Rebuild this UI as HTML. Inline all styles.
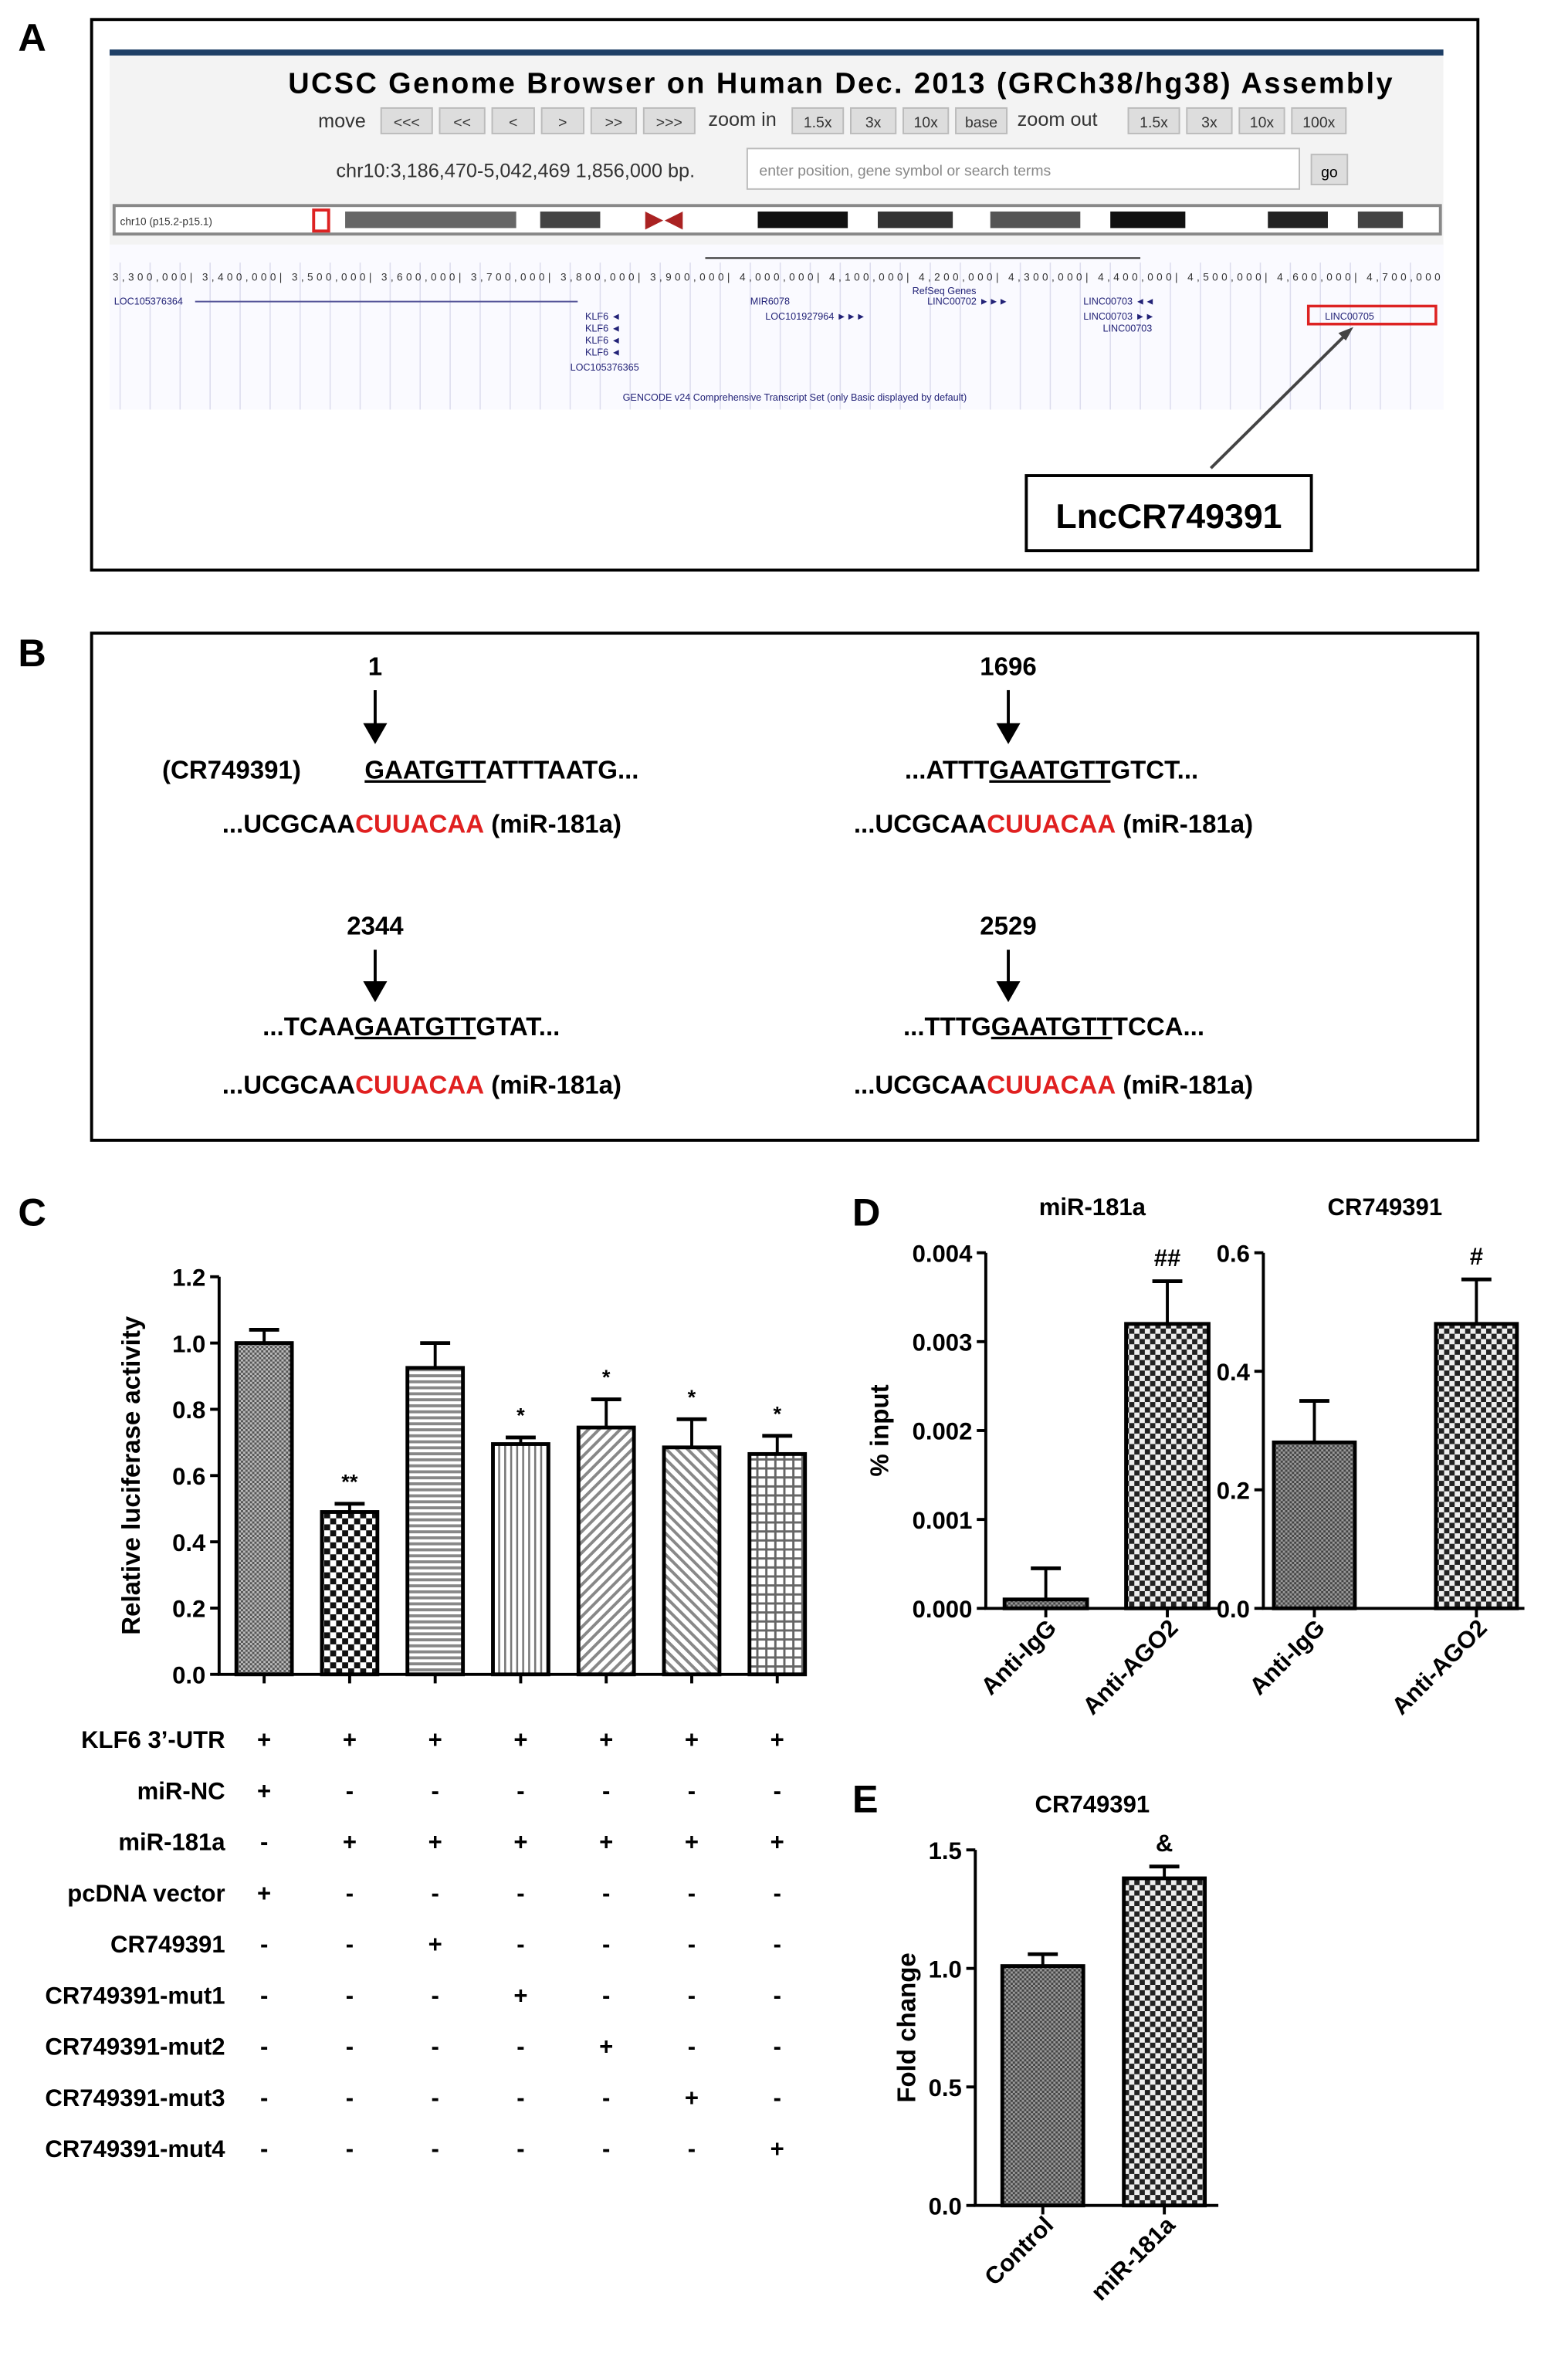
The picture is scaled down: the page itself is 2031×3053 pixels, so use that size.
<!DOCTYPE html>
<html><head><meta charset="utf-8"><style>
html,body{margin:0;padding:0;background:#fff}
svg{display:block}
text{font-family:"Liberation Sans",Arial,sans-serif}
</style></head><body>
<svg id="fig" width="2031" height="3053" viewBox="0 0 1045 1571" xmlns="http://www.w3.org/2000/svg">
<defs>
<pattern id="p-fine" width="3" height="3" patternUnits="userSpaceOnUse"><rect width="3" height="3" fill="#bbb"/><rect width="1.5" height="1.5" fill="#555"/><rect x="1.5" y="1.5" width="1.5" height="1.5" fill="#555"/></pattern>
<pattern id="p-check" width="8" height="8" patternUnits="userSpaceOnUse"><rect width="8" height="8" fill="#fff"/><rect width="4" height="4" fill="#111"/><rect x="4" y="4" width="4" height="4" fill="#111"/></pattern>
<pattern id="p-hor" width="6" height="4" patternUnits="userSpaceOnUse"><rect width="6" height="4" fill="#fff"/><rect width="6" height="2" fill="#888"/></pattern>
<pattern id="p-ver" width="4" height="6" patternUnits="userSpaceOnUse"><rect width="4" height="6" fill="#fff"/><rect width="1.3" height="6" fill="#777"/></pattern>
<pattern id="p-diag1" width="5" height="5" patternUnits="userSpaceOnUse" patternTransform="rotate(45)"><rect width="5" height="5" fill="#fff"/><rect width="2" height="5" fill="#888"/></pattern>
<pattern id="p-diag2" width="5" height="5" patternUnits="userSpaceOnUse" patternTransform="rotate(-45)"><rect width="5" height="5" fill="#fff"/><rect width="2" height="5" fill="#888"/></pattern>
<pattern id="p-grid" width="6" height="6" patternUnits="userSpaceOnUse"><rect width="6" height="6" fill="#fff"/><rect width="6" height="1.5" fill="#666"/><rect width="1.5" height="6" fill="#666"/></pattern>
<pattern id="p-checkD" width="7" height="7" patternUnits="userSpaceOnUse"><rect width="7" height="7" fill="#eee"/><rect width="3.5" height="3.5" fill="#222"/><rect x="3.5" y="3.5" width="3.5" height="3.5" fill="#222"/></pattern>
<pattern id="p-fineD" width="3" height="3" patternUnits="userSpaceOnUse"><rect width="3" height="3" fill="#999"/><rect width="1.5" height="1.5" fill="#444"/><rect x="1.5" y="1.5" width="1.5" height="1.5" fill="#444"/></pattern>
</defs>

<!-- Panel A -->
<text x="12" y="34" font-size="26" font-weight="bold">A</text>
<rect x="61" y="13" width="924" height="367" fill="none" stroke="#000" stroke-width="2"/>
<g>
<rect x="73" y="33" width="889" height="240" fill="#f3f3f3"/>
<rect x="73" y="33" width="889" height="4" fill="#1e3f66"/>
<text x="560" y="62" font-size="19.5" font-weight="bold" text-anchor="middle" textLength="736">UCSC Genome Browser on Human Dec. 2013 (GRCh38/hg38) Assembly</text>
<text x="212" y="85" font-size="13" fill="#333">move</text>
<g font-size="10" fill="#333" text-anchor="middle">
<rect x="254" y="72" width="34" height="17" fill="#ddd" stroke="#bbb"/><text x="271" y="85">&lt;&lt;&lt;</text>
<rect x="293" y="72" width="30" height="17" fill="#ddd" stroke="#bbb"/><text x="308" y="85">&lt;&lt;</text>
<rect x="328" y="72" width="28" height="17" fill="#ddd" stroke="#bbb"/><text x="342" y="85">&lt;</text>
<rect x="361" y="72" width="28" height="17" fill="#ddd" stroke="#bbb"/><text x="375" y="85">&gt;</text>
<rect x="394" y="72" width="30" height="17" fill="#ddd" stroke="#bbb"/><text x="409" y="85">&gt;&gt;</text>
<rect x="429" y="72" width="34" height="17" fill="#ddd" stroke="#bbb"/><text x="446" y="85">&gt;&gt;&gt;</text>
<rect x="528" y="72" width="34" height="17" fill="#ddd" stroke="#bbb"/><text x="545" y="85">1.5x</text>
<rect x="567" y="72" width="30" height="17" fill="#ddd" stroke="#bbb"/><text x="582" y="85">3x</text>
<rect x="602" y="72" width="30" height="17" fill="#ddd" stroke="#bbb"/><text x="617" y="85">10x</text>
<rect x="637" y="72" width="34" height="17" fill="#ddd" stroke="#bbb"/><text x="654" y="85">base</text>
<rect x="752" y="72" width="34" height="17" fill="#ddd" stroke="#bbb"/><text x="769" y="85">1.5x</text>
<rect x="791" y="72" width="30" height="17" fill="#ddd" stroke="#bbb"/><text x="806" y="85">3x</text>
<rect x="826" y="72" width="30" height="17" fill="#ddd" stroke="#bbb"/><text x="841" y="85">10x</text>
<rect x="861" y="72" width="36" height="17" fill="#ddd" stroke="#bbb"/><text x="879" y="85">100x</text>
</g>
<text x="472" y="84" font-size="13" fill="#333">zoom in</text>
<text x="678" y="84" font-size="13" fill="#333">zoom out</text>
<text x="224" y="118" font-size="13" fill="#333">chr10:3,186,470-5,042,469  1,856,000 bp.</text>
<rect x="498" y="99" width="368" height="27" fill="#fff" stroke="#bbb"/>
<text x="506" y="117" font-size="10" fill="#888">enter position, gene symbol or search terms</text>
<rect x="874" y="103" width="24" height="20" fill="#ddd" stroke="#bbb"/>
<text x="886" y="118" font-size="10" text-anchor="middle">go</text>
<rect x="76" y="137" width="884" height="19" fill="#fff" stroke="#888" stroke-width="2"/>
<text x="80" y="150" font-size="7" fill="#333">chr10 (p15.2-p15.1)</text>
<rect x="230" y="141" width="114" height="11" fill="#666"/>
<rect x="360" y="141" width="40" height="11" fill="#444"/>
<path d="M430 141 L442 147 L430 153 Z M455 141 L443 147 L455 153Z" fill="#a22"/>
<rect x="505" y="141" width="60" height="11" fill="#111"/>
<rect x="585" y="141" width="50" height="11" fill="#333"/>
<rect x="660" y="141" width="60" height="11" fill="#555"/>
<rect x="740" y="141" width="50" height="11" fill="#111"/>
<rect x="845" y="141" width="40" height="11" fill="#222"/>
<rect x="905" y="141" width="30" height="11" fill="#444"/>
<rect x="209" y="140" width="10" height="14" fill="none" stroke="#d22" stroke-width="2"/>
<rect x="73" y="163" width="889" height="110" fill="#fafaff"/>
<g stroke="#dde" stroke-width="0.8">
<line x1="80" y1="175" x2="80" y2="273"/><line x1="100" y1="175" x2="100" y2="273"/><line x1="120" y1="175" x2="120" y2="273"/><line x1="140" y1="175" x2="140" y2="273"/><line x1="160" y1="175" x2="160" y2="273"/><line x1="180" y1="175" x2="180" y2="273"/><line x1="200" y1="175" x2="200" y2="273"/><line x1="220" y1="175" x2="220" y2="273"/><line x1="240" y1="175" x2="240" y2="273"/><line x1="260" y1="175" x2="260" y2="273"/><line x1="280" y1="175" x2="280" y2="273"/><line x1="300" y1="175" x2="300" y2="273"/><line x1="320" y1="175" x2="320" y2="273"/><line x1="340" y1="175" x2="340" y2="273"/><line x1="360" y1="175" x2="360" y2="273"/><line x1="380" y1="175" x2="380" y2="273"/><line x1="400" y1="175" x2="400" y2="273"/><line x1="420" y1="175" x2="420" y2="273"/><line x1="440" y1="175" x2="440" y2="273"/><line x1="460" y1="175" x2="460" y2="273"/><line x1="480" y1="175" x2="480" y2="273"/><line x1="500" y1="175" x2="500" y2="273"/><line x1="520" y1="175" x2="520" y2="273"/><line x1="540" y1="175" x2="540" y2="273"/><line x1="560" y1="175" x2="560" y2="273"/><line x1="580" y1="175" x2="580" y2="273"/><line x1="600" y1="175" x2="600" y2="273"/><line x1="620" y1="175" x2="620" y2="273"/><line x1="640" y1="175" x2="640" y2="273"/><line x1="660" y1="175" x2="660" y2="273"/><line x1="680" y1="175" x2="680" y2="273"/><line x1="700" y1="175" x2="700" y2="273"/><line x1="720" y1="175" x2="720" y2="273"/><line x1="740" y1="175" x2="740" y2="273"/><line x1="760" y1="175" x2="760" y2="273"/><line x1="780" y1="175" x2="780" y2="273"/><line x1="800" y1="175" x2="800" y2="273"/><line x1="820" y1="175" x2="820" y2="273"/><line x1="840" y1="175" x2="840" y2="273"/><line x1="860" y1="175" x2="860" y2="273"/><line x1="880" y1="175" x2="880" y2="273"/><line x1="900" y1="175" x2="900" y2="273"/><line x1="920" y1="175" x2="920" y2="273"/><line x1="940" y1="175" x2="940" y2="273"/>
</g>
<line x1="470" y1="172" x2="760" y2="172" stroke="#333"/>
<text x="75" y="187" font-size="7" fill="#333" font-family="Liberation Mono,monospace" textLength="885">3,300,000| 3,400,000| 3,500,000| 3,600,000| 3,700,000| 3,800,000| 3,900,000| 4,000,000| 4,100,000| 4,200,000| 4,300,000| 4,400,000| 4,500,000| 4,600,000| 4,700,000</text>
<g font-size="6.5" fill="#227" font-family="Liberation Mono,monospace">
<text x="76" y="203">LOC105376364</text><line x1="130" y1="201" x2="385" y2="201" stroke="#559"/>
<text x="608" y="196">RefSeq Genes</text>
<text x="500" y="203">MIR6078</text><text x="618" y="203">LINC00702 ►►►</text><text x="722" y="203">LINC00703 ◄◄</text>
<text x="510" y="213">LOC101927964 ►►►</text><text x="722" y="213">LINC00703 ►►</text>
<text x="390" y="213">KLF6 ◄</text><text x="390" y="221">KLF6 ◄</text><text x="390" y="229">KLF6 ◄</text><text x="390" y="237">KLF6 ◄</text><text x="380" y="247">LOC105376365</text>
<text x="735" y="221">LINC00703</text>
<text x="883" y="213">LINC00705</text>
<text x="415" y="267">GENCODE v24 Comprehensive Transcript Set (only Basic displayed by default)</text>
</g>
<rect x="872" y="204" width="85" height="12" fill="none" stroke="#d22" stroke-width="1.8"/>
</g>
<line x1="807" y1="312" x2="898" y2="222" stroke="#444" stroke-width="2"/>
<path d="M902 218 L892 222 L897 227 Z" fill="#444"/>
<rect x="684" y="317" width="190" height="50" fill="#fff" stroke="#000" stroke-width="2"/>
<text x="779" y="352" font-size="23" font-weight="bold" text-anchor="middle">LncCR749391</text>

<!-- Panel B -->
<text x="12" y="444" font-size="26" font-weight="bold">B</text>
<rect x="61" y="422" width="924" height="338" fill="none" stroke="#000" stroke-width="2"/>
<g font-size="17" font-weight="bold">
<text x="250" y="450" text-anchor="middle">1</text>
<line x1="250" y1="460" x2="250" y2="488" stroke="#000" stroke-width="2"/><path d="M242 482 L250 496 L258 482 Z"/>
<text x="108" y="519">(CR749391)</text>
<text x="243" y="519"><tspan text-decoration="underline">GAATGTT</tspan>ATTTAATG...</text>
<text x="148" y="555">...UCGCAA<tspan fill="#e02020">CUUACAA</tspan>  (miR-181a)</text>

<text x="672" y="450" text-anchor="middle">1696</text>
<line x1="672" y1="460" x2="672" y2="488" stroke="#000" stroke-width="2"/><path d="M664 482 L672 496 L680 482 Z"/>
<text x="603" y="519">...ATTT<tspan text-decoration="underline">GAATGTT</tspan>GTCT...</text>
<text x="569" y="555">...UCGCAA<tspan fill="#e02020">CUUACAA</tspan>  (miR-181a)</text>

<text x="250" y="623" text-anchor="middle">2344</text>
<line x1="250" y1="633" x2="250" y2="660" stroke="#000" stroke-width="2"/><path d="M242 654 L250 668 L258 654 Z"/>
<text x="175" y="690">...TCAA<tspan text-decoration="underline">GAATGTT</tspan>GTAT...</text>
<text x="148" y="729">...UCGCAA<tspan fill="#e02020">CUUACAA</tspan>  (miR-181a)</text>

<text x="672" y="623" text-anchor="middle">2529</text>
<line x1="672" y1="633" x2="672" y2="660" stroke="#000" stroke-width="2"/><path d="M664 654 L672 668 L680 654 Z"/>
<text x="602" y="690">...TTTG<tspan text-decoration="underline">GAATGTT</tspan>TCCA...</text>
<text x="569" y="729">...UCGCAA<tspan fill="#e02020">CUUACAA</tspan>  (miR-181a)</text>
</g>

<!-- Panel labels C D E -->
<text x="12" y="817" font-size="26" font-weight="bold">C</text>
<text x="568" y="817" font-size="26" font-weight="bold">D</text>
<text x="568" y="1208" font-size="26" font-weight="bold">E</text>

<g id="chartC"></g>
<g id="chartD1"></g>
<g id="chartD2"></g>
<g id="chartE"></g>
<g id="tableC"></g>
</svg>
<script>
const NS='http://www.w3.org/2000/svg';
// Panel C data
const cValues=[1.0,0.49,0.925,0.695,0.745,0.685,0.665];
const cErrors=[0.04,0.025,0.075,0.02,0.085,0.085,0.055];
const cSig=['','**','','*','*','*','*'];
const cTicks=[0,0.2,0.4,0.6,0.8,1.0,1.2];
const cFills=['p-fine','p-check','p-hor','p-ver','p-diag1','p-diag2','p-grid'];
const cRowLabels=["KLF6 3\u2019-UTR","miR-NC","miR-181a","pcDNA vector","CR749391","CR749391-mut1","CR749391-mut2","CR749391-mut3","CR749391-mut4"];
const cRowMarks=[
 "+++++++","+------","-++++++","+------","--+----","---+---","----+--","-----+-","------+"];
// Panel D data
const d1Cats=['Anti-IgG','Anti-AGO2'];
const d1Values=[0.0001,0.0032];
const d1Errors=[0.00035,0.00048];
const d1Ticks=[0,0.001,0.002,0.003,0.004];
const d2Cats=['Anti-IgG','Anti-AGO2'];
const d2Values=[0.28,0.48];
const d2Errors=[0.07,0.075];
const d2Ticks=[0,0.2,0.4,0.6];
// Panel E data
const eCats=['Control','miR-181a'];
const eValues=[1.01,1.38];
const eErrors=[0.05,0.05];
const eTicks=[0,0.5,1.0,1.5];

function el(parent,tag,attrs,txt){const e=document.createElementNS(NS,tag);for(const k in attrs)e.setAttribute(k,attrs[k]);if(txt!==undefined)e.textContent=txt;parent.appendChild(e);return e;}

function barChart(g,o){
  const y=v=>o.y0-(v-o.min)/(o.max-o.min)*(o.y0-o.y1);
  let ax=el(g,'line',{x1:o.ax,y1:o.y1,x2:o.ax,y2:o.y0,stroke:'#000','stroke-width':2});
  
  
  let bx=el(g,'line',{x1:o.ax-1,y1:o.y0,x2:o.axEnd,y2:o.y0,stroke:'#000','stroke-width':2});
  
  
  o.ticks.forEach(t=>{
    el(g,'line',{x1:o.ax-6,y1:y(t),x2:o.ax,y2:y(t),stroke:'#000','stroke-width':2});
    let tl=el(g,'text',{x:o.ax-9,y:y(t)+6,'font-size':16,'font-weight':'bold','text-anchor':'end'},o.fmt(t));
    
    
  });
  o.values.forEach((v,i)=>{
    const cx=o.cx(i),w=o.bw;
    const top=y(o.values[i]+o.errors[i]);
    el(g,'line',{x1:cx,y1:top,x2:cx,y2:y(v),stroke:'#000','stroke-width':2});
    el(g,'line',{x1:cx-10,y1:top,x2:cx+10,y2:top,stroke:'#000','stroke-width':2.5});
    let b=el(g,'rect',{x:cx-w/2,y:y(v),width:w,height:o.y0-y(v),fill:'url(#'+o.fills[i]+')',stroke:'#000','stroke-width':2.5});
    
    
    el(g,'line',{x1:cx,y1:o.y0,x2:cx,y2:o.y0+6,stroke:'#000','stroke-width':2});
    if(o.sig&&o.sig[i]){let s=el(g,'text',{x:cx,y:top-10,'font-size':o.sigSize||14,'font-weight':'bold','text-anchor':'middle'},o.sig[i]);
      
      }
    if(o.cats){let c=el(g,'text',{x:cx+8,y:o.y0+14,'font-size':16,'font-weight':'bold','text-anchor':'end',transform:`rotate(-45 ${cx+8} ${o.y0+14})`},o.cats[i]);
      
      }
  });
  if(o.title){let t=el(g,'text',{x:o.titleX,y:o.y1-25,'font-size':16,'font-weight':'bold','text-anchor':'middle'},o.title);
    
    }
  if(o.ylab){let t=el(g,'text',{x:o.ylabX,y:(o.y0+o.y1)/2,'font-size':17,'font-weight':'bold','text-anchor':'middle',transform:`rotate(-90 ${o.ylabX} ${(o.y0+o.y1)/2})`},o.ylab);
    
    }
}
const cCenters=i=>176+i*57;
barChart(document.getElementById('chartC'),{values:cValues,errors:cErrors,ticks:cTicks,fills:cFills,sig:cSig,min:0,max:1.2,y0:1116,y1:851,ax:146,axEnd:536,bw:37,cx:cCenters,fmt:t=>t.toFixed(1),ylab:'Relative luciferase activity',ylabX:93});
barChart(document.getElementById('chartD1'),{values:d1Values,errors:d1Errors,ticks:d1Ticks,fills:['p-fineD','p-checkD'],sig:['','##'],sigSize:16,cats:d1Cats,min:0,max:0.004,y0:1072,y1:835,ax:657,axEnd:812,bw:55,cx:i=>697+i*81,fmt:t=>t.toFixed(3),title:'miR-181a',titleX:728,ylab:'% input',ylabX:592});
barChart(document.getElementById('chartD2'),{values:d2Values,errors:d2Errors,ticks:d2Ticks,fills:['p-fineD','p-checkD'],sig:['','#'],sigSize:16,cats:d2Cats,min:0,max:0.6,y0:1072,y1:835,ax:842,axEnd:1016,bw:54,cx:i=>876+i*108,fmt:t=>t.toFixed(1),title:'CR749391',titleX:923});
barChart(document.getElementById('chartE'),{values:eValues,errors:eErrors,ticks:eTicks,fills:['p-fineD','p-checkD'],sig:['','&'],sigSize:16,cats:eCats,min:0,max:1.5,y0:1470,y1:1233,ax:650,axEnd:812,bw:54,cx:i=>695+i*81,fmt:t=>t.toFixed(1),title:'CR749391',titleX:728,ylab:'Fold change',ylabX:610});

const tg=document.getElementById('tableC');
cRowLabels.forEach((lab,r)=>{
  const yy=1165+r*34.1;
  let t=el(tg,'text',{x:150,y:yy,'font-size':16,'font-weight':'bold','text-anchor':'end'},lab);
  
  
  cRowMarks[r].split('').forEach((m,i)=>{
    let s=el(tg,'text',{x:cCenters(i),y:yy,'font-size':16,'font-weight':'bold','text-anchor':'middle'},m);
    
    
  });
});
</script>
</body></html>
